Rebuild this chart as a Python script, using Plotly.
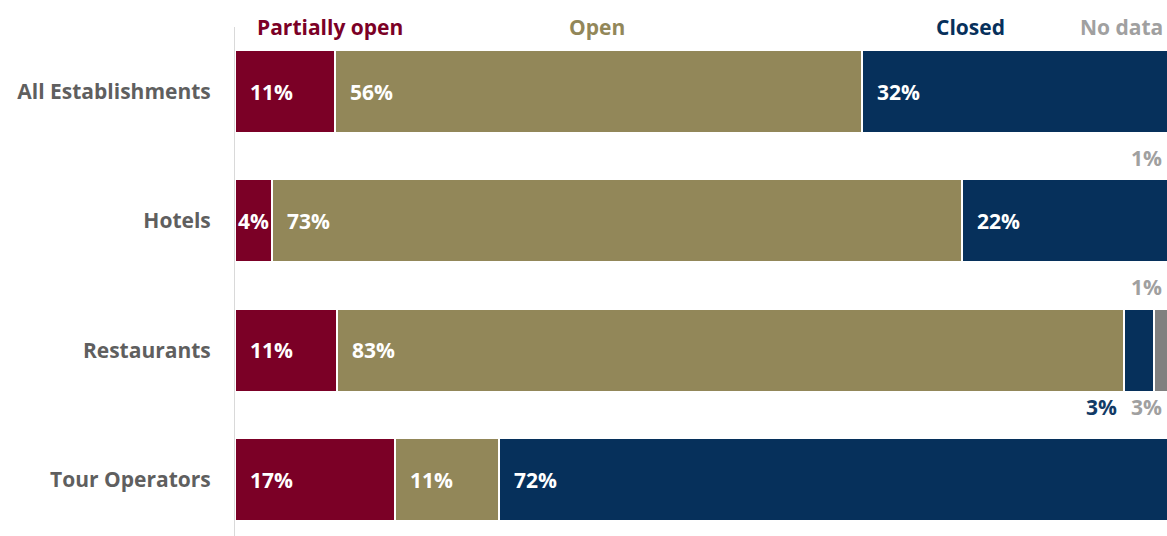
import plotly.graph_objects as go

categories = ["All Establishments", "Hotels", "Restaurants", "Tour Operators"]
series_names = ["Partially open", "Open", "Closed", "No data"]
partially_open = [10.6, 3.9, 10.8, 16.9]
open_ = [55.7, 72.9, 83.2, 11.0]
closed = [32.4, 22.2, 3.1, 72.1]
no_data = [1.3, 1.0, 2.9, 0.0]

colors = ["#7B0026", "#928759", "#06305B", "#808080"]
legend_colors = ["#7B0026", "#928759", "#06305B", "#A0A0A0"]
outside_colors = ["#7B0026", "#928759", "#123A66", "#A0A0A0"]

FONT = "Open Sans"
FS = 21
series = [partially_open, open_, closed, no_data]

fig = go.Figure()
for name, vals, col in zip(series_names, series, colors):
    fig.add_trace(go.Bar(
        y=categories, x=vals, orientation="h", name=name,
        marker=dict(color=col, line=dict(color="white", width=2)),
        showlegend=False, hoverinfo="skip",
    ))

annotations = []
# value labels
for ci, cat in enumerate(categories):
    start = 0.0
    for si, vals in enumerate(series):
        v = vals[ci]
        label = f"{round(v)}%"
        if v <= 0:
            continue
        if si < 3 and v >= 3.5:
            annotations.append(dict(
                x=start, y=cat, xref="x", yref="y", text=label,
                xanchor="left", yanchor="middle", showarrow=False,
                xshift=13 if v > 6 else 1,
                font=dict(family=FONT, size=FS, color="white", weight="bold")))
        elif si < 3:
            annotations.append(dict(
                x=start, y=cat, xref="x", yref="y", text=label,
                xanchor="right", yanchor="middle", showarrow=False,
                xshift=-5, yshift=-57,
                font=dict(family=FONT, size=FS, color=outside_colors[si], weight="bold")))
        else:
            annotations.append(dict(
                x=1, y=cat, xref="paper", yref="y", text=label,
                xanchor="right", yanchor="middle", showarrow=False,
                xshift=-3, yshift=-66 if ci < 2 else -57,
                font=dict(family=FONT, size=FS, color=outside_colors[si], weight="bold")))
        start += v

# header legend
legend_x = [10.0, 38.3, 77.7, 93.7]
for name, lx, col in zip(series_names, legend_x, legend_colors):
    annotations.append(dict(
        x=lx, y=1, xref="x", yref="paper", text=name,
        xanchor="center", yanchor="middle", showarrow=False,
        font=dict(family=FONT, size=FS, color=col, weight="bold")))

fig.update_layout(
    barmode="stack",
    bargap=0.358,
    width=1167, height=536,
    margin=dict(l=235, r=0, t=27, b=0),
    paper_bgcolor="white", plot_bgcolor="white",
    annotations=annotations,
    xaxis=dict(range=[0, 98.5], visible=False, showgrid=False, zeroline=False),
    yaxis=dict(
        categoryorder="array", categoryarray=categories,
        range=[3.437, -0.5],
        showline=True, linecolor="#D9D9D9", linewidth=1,
        showgrid=False, zeroline=False, ticks="",
        ticklabelstandoff=19,
        tickfont=dict(family=FONT, size=FS, color="#5F5F5F", weight="bold"),
    ),
)

fig.write_html("out.html")
